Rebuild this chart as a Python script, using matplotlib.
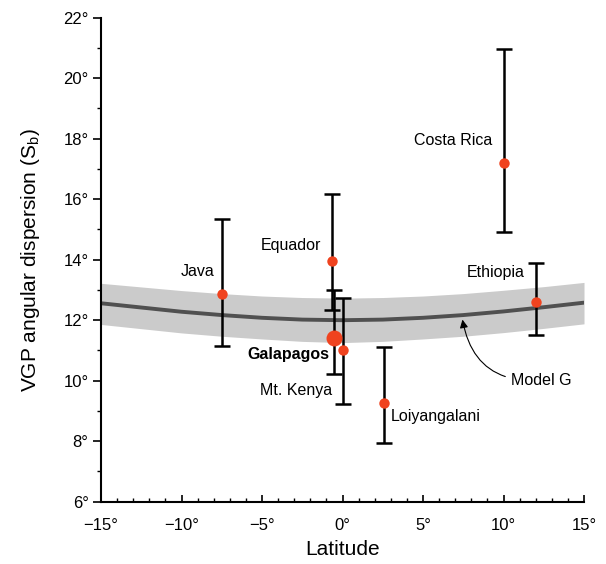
import matplotlib.pyplot as plt
from matplotlib.ticker import MultipleLocator, FuncFormatter

plt.rcParams['font.family'] = ['Liberation Sans', 'DejaVu Sans']
plt.rcParams['mathtext.fontset'] = 'custom'
plt.rcParams['mathtext.rm'] = 'Liberation Sans'

# sites: latitude, Sb, lower / upper error limits
sites = ["Java", "Equador", "Galapagos", "Mt. Kenya", "Loiyangalani", "Costa Rica", "Ethiopia"]
lat = [-7.5, -0.65, -0.5, 0.0, 2.6, 10.0, 12.0]
sb = [12.88, 13.96, 11.42, 11.01, 9.27, 17.19, 12.61]
sb_lo = [11.15, 12.34, 10.21, 9.23, 7.94, 14.91, 11.51]
sb_hi = [15.35, 16.16, 13.0, 12.72, 11.12, 20.97, 13.88]

# Model G curve and its band
model_lat = [-15, -12.5, -10, -7.5, -5, -2.5, 0, 2.5, 5, 7.5, 10, 12.5, 15]
model_sb = [12.56, 12.42, 12.28, 12.17, 12.08, 12.02, 12.0, 12.02, 12.08, 12.17, 12.29, 12.43, 12.58]
model_lo = [11.86, 11.72, 11.58, 11.47, 11.38, 11.30, 11.26, 11.30, 11.38, 11.47, 11.59, 11.73, 11.88]
model_hi = [13.22, 13.10, 12.98, 12.88, 12.80, 12.75, 12.73, 12.75, 12.80, 12.88, 12.99, 13.11, 13.25]

red = '#f0431f'

fig = plt.figure(figsize=(6.06, 5.64), dpi=100)
ax = fig.add_axes([0.1667, 0.1105, 0.7970, 0.8580])

ax.fill_between(model_lat, model_lo, model_hi, color='#cbcbcb', lw=0, zorder=1)
ax.plot(model_lat, model_sb, color='#505050', lw=2.8, zorder=2)

for i in range(len(sites)):
    ax.errorbar(lat[i], sb[i], yerr=[[sb[i] - sb_lo[i]], [sb_hi[i] - sb[i]]],
                fmt='none', ecolor='black', elinewidth=1.8, capsize=6, capthick=1.8, zorder=3)
for i in range(len(sites)):
    ms = 11.5 if sites[i] == "Galapagos" else 7.5
    ax.plot(lat[i], sb[i], 'o', color=red, ms=ms, mec='none', zorder=4)

fs = 11.5
ax.text(-7.96, 13.6, "Java", ha='right', va='center', fontsize=fs)
ax.text(-1.31, 14.46, "Equador", ha='right', va='center', fontsize=fs)
ax.text(-0.81, 10.88, "Galapagos", ha='right', va='center', fontsize=fs, fontweight='bold')
ax.text(-0.64, 9.67, "Mt. Kenya", ha='right', va='center', fontsize=fs)
ax.text(2.98, 8.8, "Loiyangalani", ha='left', va='center', fontsize=fs)
ax.text(9.31, 17.93, "Costa Rica", ha='right', va='center', fontsize=fs)
ax.text(11.34, 13.57, "Ethiopia", ha='right', va='center', fontsize=fs)

ax.annotate("Model G", xy=(7.45, 12.02), xytext=(10.45, 10.02), fontsize=fs,
            ha='left', va='center',
            arrowprops=dict(arrowstyle='-|>', color='black', lw=0.8, mutation_scale=12,
                            shrinkA=2, shrinkB=0, connectionstyle='arc3,rad=-0.45'))

ax.set_xlim(-15, 15)
ax.set_ylim(6, 22)
ax.xaxis.set_major_locator(MultipleLocator(5))
ax.xaxis.set_minor_locator(MultipleLocator(1))
ax.yaxis.set_major_locator(MultipleLocator(2))
ax.yaxis.set_minor_locator(MultipleLocator(1))
deg = FuncFormatter(lambda v, p: ("%d\u00b0" % round(v)).replace("-", "\u2212"))
ax.xaxis.set_major_formatter(deg)
ax.yaxis.set_major_formatter(deg)

ax.spines['top'].set_visible(False)
ax.spines['right'].set_visible(False)
ax.spines['left'].set_linewidth(1.5)
ax.spines['bottom'].set_linewidth(1.5)
ax.tick_params(axis='x', which='major', direction='in', length=5, width=1.2, labelsize=12, pad=12)
ax.tick_params(axis='x', which='minor', direction='in', length=3, width=1.0)
ax.tick_params(axis='y', which='major', direction='out', length=6, width=1.2, labelsize=12, pad=3)
ax.tick_params(axis='y', which='minor', direction='out', length=3, width=1.0)

ax.set_xlabel("Latitude", fontsize=15, labelpad=5)
ax.set_ylabel(r"VGP angular dispersion (S$_\mathregular{b}$)", fontsize=15, labelpad=15)

plt.savefig("out.png", dpi=100)
